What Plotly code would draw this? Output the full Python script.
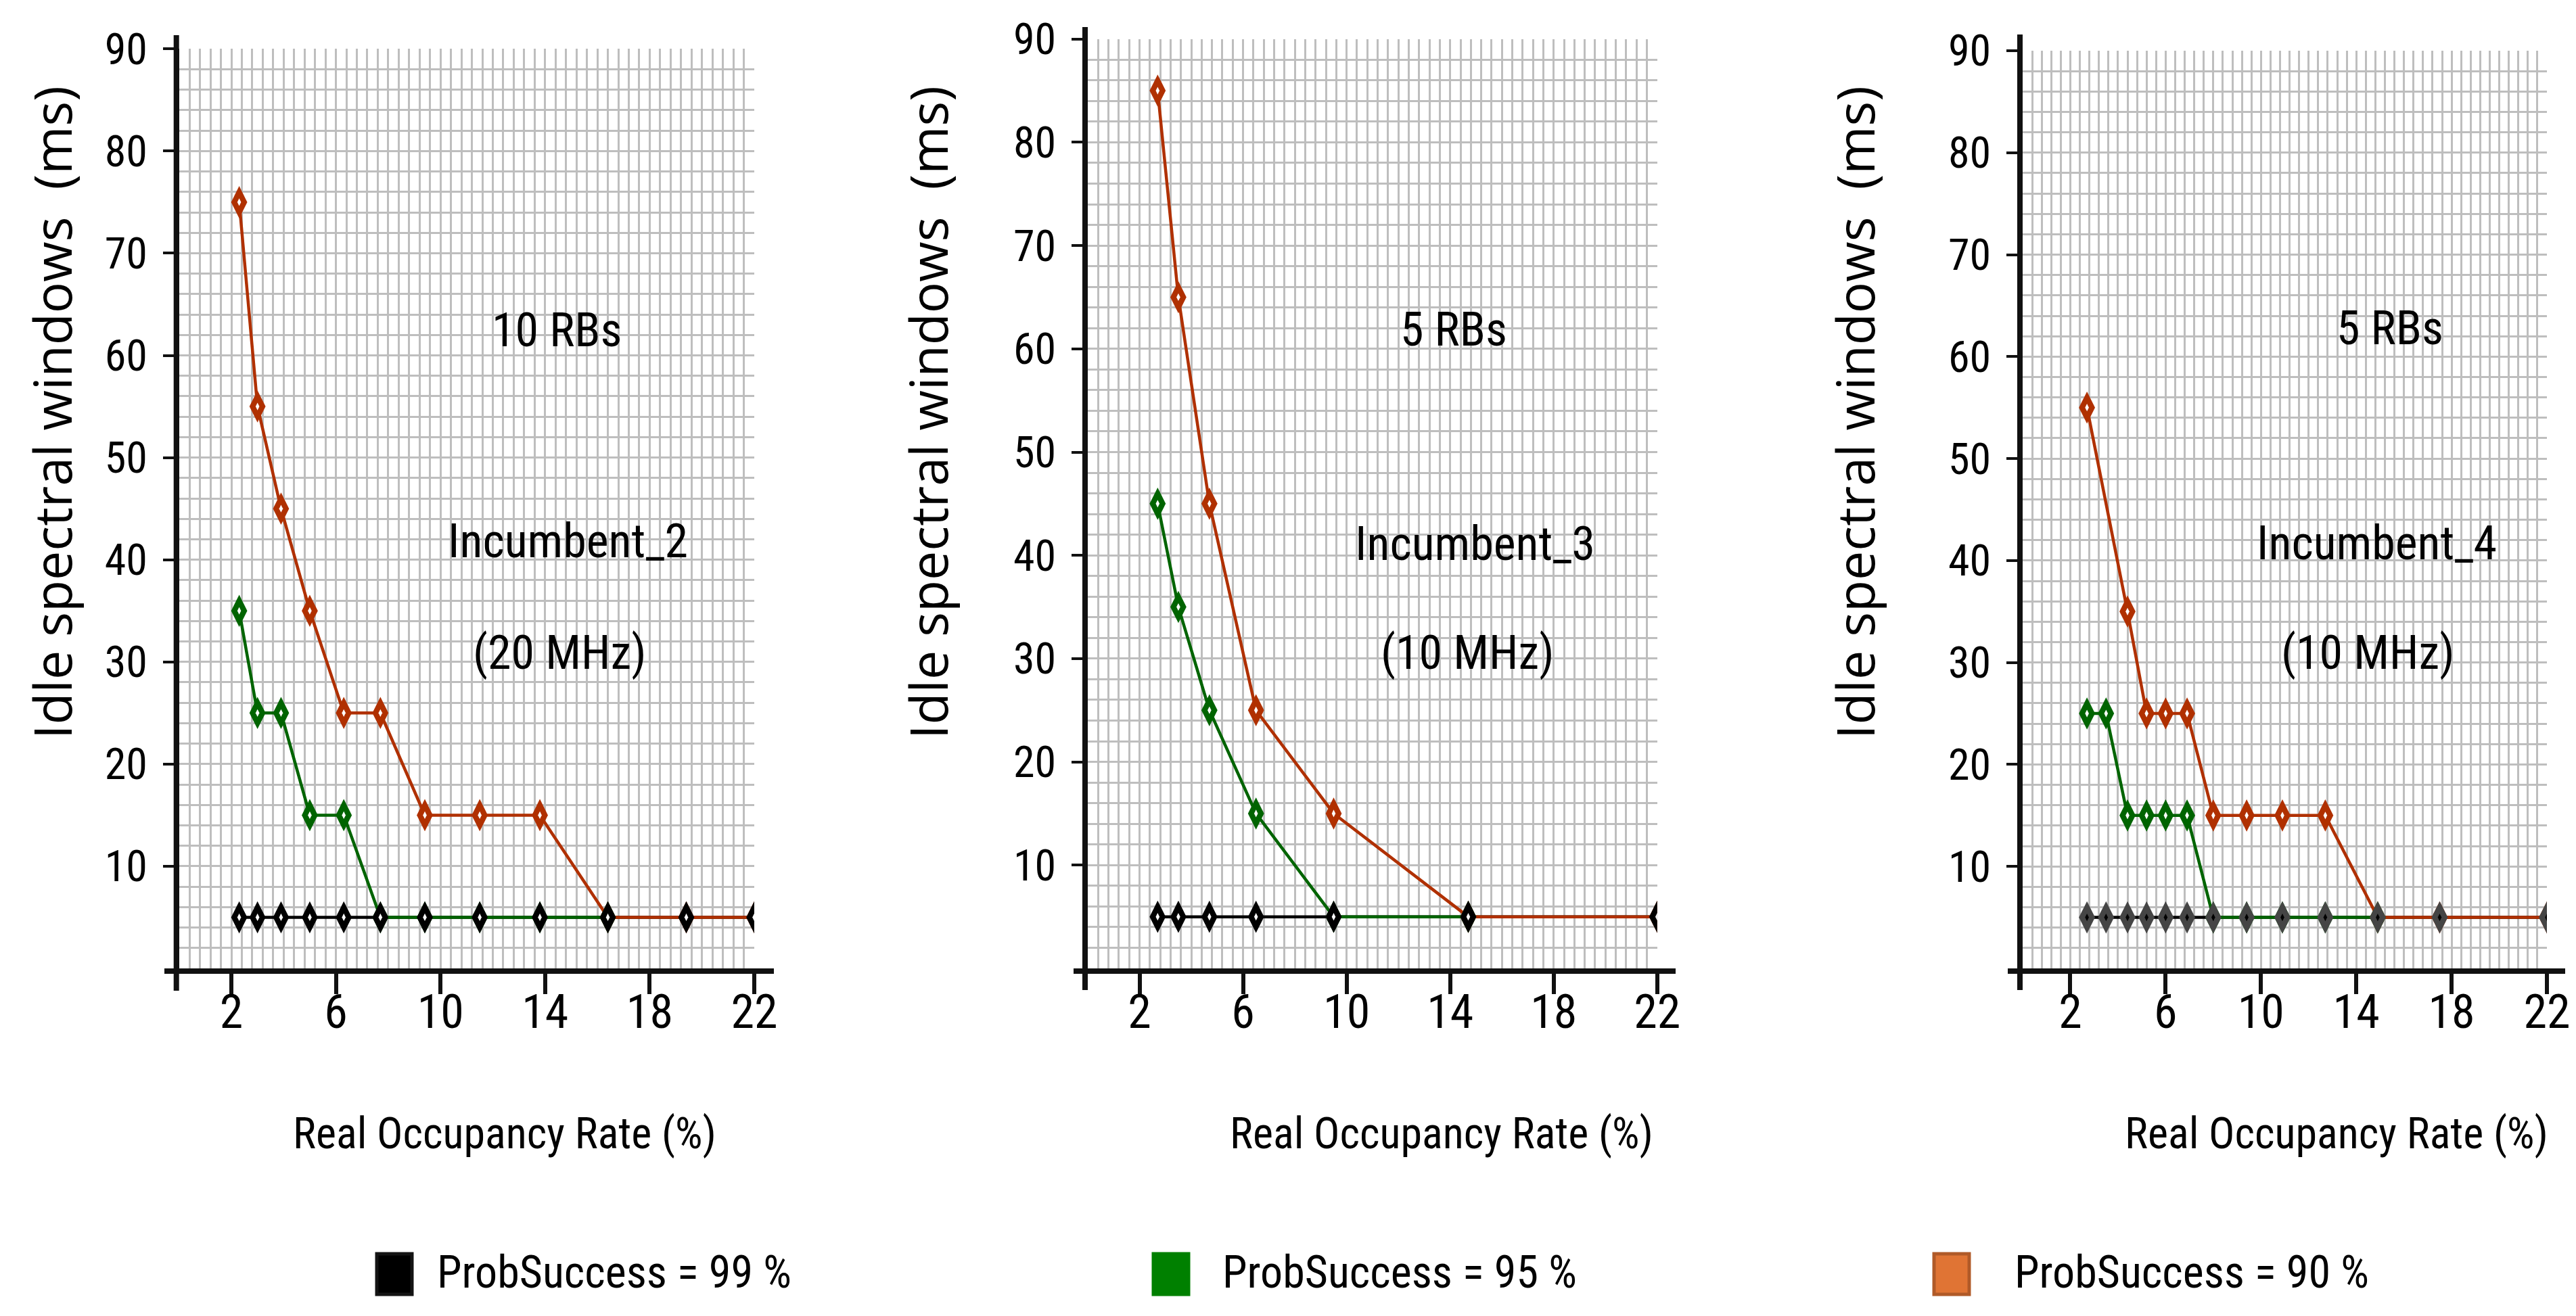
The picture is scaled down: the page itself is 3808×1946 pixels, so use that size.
import plotly.graph_objects as go

# ---------------- data ----------------
# Panel 1 : Incumbent_2 (20 MHz), 10 RBs
p1_x_99 = [2.3, 3.0, 3.9, 5.0, 6.3, 7.7, 9.4, 11.5, 13.8, 16.4, 19.4, 22.0]
p1_y_99 = [5, 5, 5, 5, 5, 5, 5, 5, 5, 5, 5, 5]
p1_x_95 = [2.3, 3.0, 3.9, 5.0, 6.3, 7.7, 9.4, 11.5, 13.8, 16.4]
p1_y_95 = [35, 25, 25, 15, 15, 5, 5, 5, 5, 5]
p1_x_90 = [2.3, 3.0, 3.9, 5.0, 6.3, 7.7, 9.4, 11.5, 13.8, 16.4, 19.4, 22.0]
p1_y_90 = [75, 55, 45, 35, 25, 25, 15, 15, 15, 5, 5, 5]

# Panel 2 : Incumbent_3 (10 MHz), 5 RBs
p2_x_99 = [2.7, 3.5, 4.7, 6.5, 9.5, 14.7, 22.0]
p2_y_99 = [5, 5, 5, 5, 5, 5, 5]
p2_x_95 = [2.7, 3.5, 4.7, 6.5, 9.5, 14.7]
p2_y_95 = [45, 35, 25, 15, 5, 5]
p2_x_90 = [2.7, 3.5, 4.7, 6.5, 9.5, 14.7, 22.0]
p2_y_90 = [85, 65, 45, 25, 15, 5, 5]

# Panel 3 : Incumbent_4 (10 MHz), 5 RBs
p3_x_99 = [2.7, 3.5, 4.4, 5.2, 6.0, 6.9, 8.0, 9.4, 10.9, 12.7, 14.9, 17.5, 22.0]
p3_y_99 = [5, 5, 5, 5, 5, 5, 5, 5, 5, 5, 5, 5, 5]
p3_x_95 = [2.7, 3.5, 4.4, 5.2, 6.0, 6.9, 8.0, 9.4, 10.9, 12.7, 14.9]
p3_y_95 = [25, 25, 15, 15, 15, 15, 5, 5, 5, 5, 5]
p3_x_90 = [2.7, 4.4, 5.2, 6.0, 6.9, 8.0, 9.4, 10.9, 12.7, 14.9, 17.5, 22.0]
p3_y_90 = [55, 35, 25, 25, 25, 15, 15, 15, 15, 5, 5, 5]

x_tick_vals = [2, 6, 10, 14, 18, 22]
y_tick_vals = [10, 20, 30, 40, 50, 60, 70, 80, 90]

legend_labels = ["ProbSuccess = 99 %", "ProbSuccess = 95 %", "ProbSuccess = 90 %"]
panel_rbs = ["10 RBs", "5 RBs", "5 RBs"]
panel_names = ["Incumbent_2", "Incumbent_3", "Incumbent_4"]
panel_bw = ["(20 MHz)", "(10 MHz)", "(10 MHz)"]
x_title = "Real Occupancy Rate (%)"
y_title = "Idle spectral windows\u00a0\u00a0(ms)"

# ---------------- styles ----------------
W, H = 3808, 1946
C_BLACK = "#000000"
C_GREEN = "#006400"
C_ORANGE = "#B03000"
C_GREY_MK = "#454545"
GRID = "#BEBEBE"
AXC = "#111111"
NARROW = "'Roboto Condensed', 'Open Sans Condensed Light', 'DejaVu Sans Condensed', sans-serif"
WIDE = "'Open Sans', 'Noto Sans', sans-serif"

MK_SIZE = 34
MK_CENTER = 8
LW = 4.5

panels = [
    dict(x99=p1_x_99, y99=p1_y_99, x95=p1_x_95, y95=p1_y_95, x90=p1_x_90, y90=p1_y_90,
         xd=(256.7, 1107.0), ytop=64.3, mk99=C_BLACK, c99="#FFFFFF",
         xline=(235, 1136), yline=(44, 1457)),
    dict(x99=p2_x_99, y99=p2_y_99, x95=p2_x_95, y95=p2_y_95, x90=p2_x_90, y90=p2_y_90,
         xd=(1600.0, 2441.8), ytop=49.7, mk99=C_BLACK, c99="#FFFFFF",
         xline=(1579, 2469), yline=(32, 1456)),
    dict(x99=p3_x_99, y99=p3_y_99, x95=p3_x_95, y95=p3_y_95, x90=p3_x_90, y90=p3_y_90,
         xd=(2982.0, 3757.0), ytop=67.0, mk99=C_GREY_MK, c99="#000000",
         xline=(2960, 3784), yline=(43, 1456)),
]
Y0_PX = 1424.0

fig = go.Figure()
layout_axes = {}
annotations = []
shapes = []

for i, p in enumerate(panels):
    n = i + 1
    xa = "x" if n == 1 else f"x{n}"
    ya = "y" if n == 1 else f"y{n}"
    # connecting lines (99 %, 95 %, 90 % order)
    for xs, ys, col in [(p["x99"], p["y99"], C_BLACK), (p["x95"], p["y95"], C_GREEN),
                        (p["x90"], p["y90"], C_ORANGE)]:
        fig.add_trace(go.Scatter(x=xs, y=ys, mode="lines", xaxis=xa, yaxis=ya,
                                 line=dict(color=col, width=LW), showlegend=False,
                                 hoverinfo="skip"))
    # diamond markers on top (90 %, 95 %, 99 % order)
    for xs, ys, col, cc in [(p["x90"], p["y90"], C_ORANGE, "#FFFFFF"),
                            (p["x95"], p["y95"], C_GREEN, "#FFFFFF"),
                            (p["x99"], p["y99"], p["mk99"], p["c99"])]:
        fig.add_trace(go.Scatter(x=xs, y=ys, mode="markers", xaxis=xa, yaxis=ya,
                                 marker=dict(symbol="diamond-tall", size=MK_SIZE, color=col,
                                             line=dict(width=0)),
                                 showlegend=False))
        fig.add_trace(go.Scatter(x=xs, y=ys, mode="markers", xaxis=xa, yaxis=ya,
                                 marker=dict(symbol="diamond-tall", size=MK_CENTER, color=cc,
                                             line=dict(width=0)),
                                 showlegend=False, hoverinfo="skip"))

    xd = [p["xd"][0] / W, p["xd"][1] / W]
    yd = [1 - Y0_PX / H, 1 - p["ytop"] / H]
    xkey = "xaxis" if n == 1 else f"xaxis{n}"
    ykey = "yaxis" if n == 1 else f"yaxis{n}"
    layout_axes[xkey] = dict(
        domain=xd, range=[0, 22], anchor=ya, tickmode="array", tickvals=x_tick_vals,
        ticks="outside", ticklen=30, tickwidth=6, tickcolor=AXC, automargin=False,
        showline=True, linewidth=8, linecolor=AXC, zeroline=False,
        showgrid=False, minor=dict(tick0=0, dtick=0.4, showgrid=True, gridcolor=GRID, gridwidth=3, ticks=""),
        tickfont=dict(family=NARROW, size=70, color="#000000"), ticklabelstandoff=-34,
        fixedrange=True,
    )
    layout_axes[ykey] = dict(
        domain=yd, range=[0, 90], anchor=xa, tickmode="array", tickvals=y_tick_vals,
        ticks="outside", ticklen=16, tickwidth=4, tickcolor=AXC, automargin=False,
        showline=True, linewidth=8, linecolor=AXC, zeroline=False,
        showgrid=True, gridcolor=GRID, gridwidth=3,
        minor=dict(tick0=0, dtick=2, showgrid=True, gridcolor=GRID, gridwidth=3, ticks=""),
        tickfont=dict(family=NARROW, size=64, color="#000000"), ticklabelstandoff=10,
        fixedrange=True,
    )
    # overlay axes draw the inner half of the crossing tick marks
    ox = f"xaxis{n + 3}"
    oy = f"yaxis{n + 3}"
    layout_axes[ox] = dict(
        overlaying=xa, anchor=ya, side="bottom", range=[0, 22], tickmode="array",
        tickvals=x_tick_vals, ticks="inside", ticklen=38, tickwidth=6, tickcolor=AXC,
        showticklabels=False, showgrid=False, showline=False, zeroline=False,
        automargin=False, fixedrange=True,
    )
    layout_axes[oy] = dict(
        overlaying=ya, anchor=xa, side="left", range=[0, 90], tickmode="array",
        tickvals=y_tick_vals, ticks="inside", ticklen=16, tickwidth=4, tickcolor=AXC,
        showticklabels=False, showgrid=False, showline=False, zeroline=False,
        automargin=False, fixedrange=True,
    )
    # axis-line overhang beyond the plotting area (decoration, paper coords)
    yl = Y0_PX + 4
    xl = p["xd"][0] - 4
    shapes.append(dict(type="line", xref="paper", yref="paper", layer="above",
                       x0=p["xline"][0] / W, x1=p["xline"][1] / W, y0=1 - yl / H, y1=1 - yl / H,
                       line=dict(color=AXC, width=8)))
    shapes.append(dict(type="line", xref="paper", yref="paper", layer="above",
                       x0=xl / W, x1=xl / W, y0=1 - p["yline"][0] / H, y1=1 - p["yline"][1] / H,
                       line=dict(color=AXC, width=8)))

# in-panel labels (data coordinates of each panel)
label_pos = [
    [(14.45, 62.5), (14.86, 41.8), (14.55, 30.9)],
    [(14.14, 61.9), (14.97, 41.1), (14.66, 30.6)],
    [(15.42, 62.8), (14.87, 41.7), (14.48, 31.0)],
]
for i in range(3):
    xa = "x" if i == 0 else f"x{i + 1}"
    ya = "y" if i == 0 else f"y{i + 1}"
    for txt, (lx, ly) in zip([panel_rbs[i], panel_names[i], panel_bw[i]], label_pos[i]):
        annotations.append(dict(text=txt, x=lx, y=ly, xref=xa, yref=ya, showarrow=False,
                                xanchor="center", yanchor="middle",
                                font=dict(family=NARROW, size=70, color="#000000")))

# axis titles
xt_centers = [738, 2123, 3446]
yt_centers = [68, 1363, 2733]
for cx in xt_centers:
    annotations.append(dict(text=x_title, x=cx / W, y=1 - 1668 / H, xref="paper", yref="paper",
                            showarrow=False, xanchor="center", yanchor="middle",
                            font=dict(family=NARROW, size=64, color="#000000")))
for cx in yt_centers:
    annotations.append(dict(text=y_title, x=cx / W, y=1 - 602 / H, xref="paper", yref="paper",
                            showarrow=False, xanchor="center", yanchor="middle", textangle=-90,
                            font=dict(family=WIDE, size=77, color="#000000", weight=500)))

# legend row
sw_centers = [575, 1723, 2877]
sw_fill = ["#000000", "#008000", "#E07434"]
sw_line = ["#141414", "#008000", "#B05A28"]
txt_left = [636, 1797, 2968]
for cx, fc, lc, tx, lab in zip(sw_centers, sw_fill, sw_line, txt_left, legend_labels):
    shapes.append(dict(type="rect", xref="paper", yref="paper",
                       x0=(cx - 26) / W, x1=(cx + 26) / W,
                       y0=1 - 1906 / H, y1=1 - 1846 / H,
                       fillcolor=fc, line=dict(color=lc, width=5)))
    annotations.append(dict(text=lab, x=tx / W, y=1 - 1873 / H, xref="paper", yref="paper",
                            showarrow=False, xanchor="left", yanchor="middle",
                            font=dict(family=NARROW, size=66, color="#000000")))

fig.update_layout(
    width=W, height=H, autosize=False,
    margin=dict(l=0, r=0, t=0, b=0, pad=0),
    paper_bgcolor="#FFFFFF", plot_bgcolor="#FFFFFF",
    showlegend=False,
    annotations=annotations, shapes=shapes,
    **layout_axes,
)

fig.write_html("out.html")
